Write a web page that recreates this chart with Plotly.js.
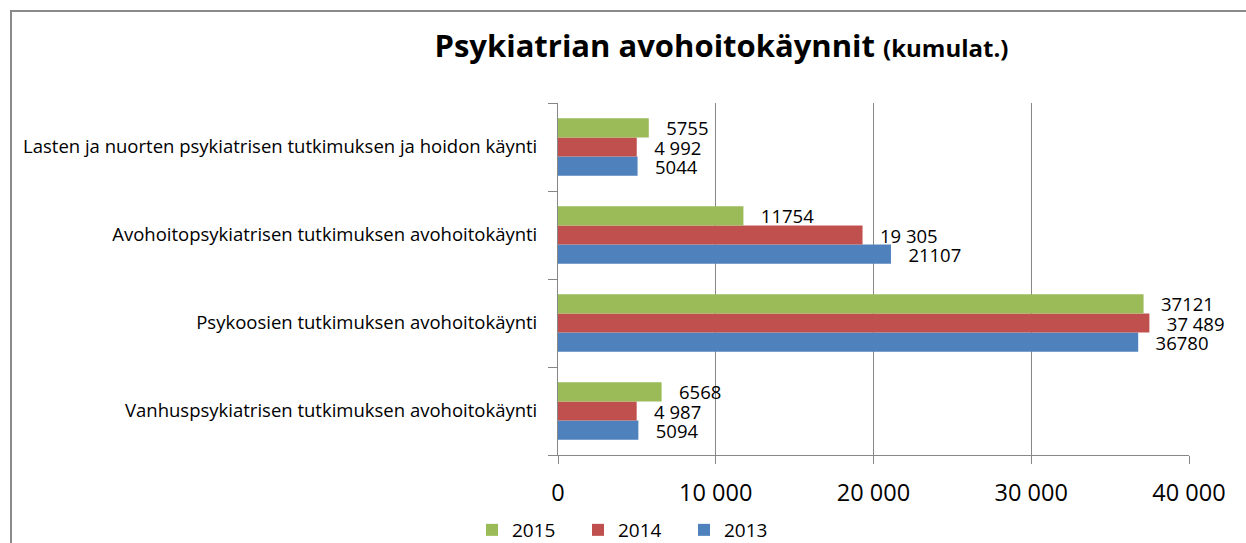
<!DOCTYPE html>
<html>
<head>
<meta charset="utf-8">
<script src="https://cdn.plot.ly/plotly-3.0.1.min.js"></script>
<style>
  html, body { margin: 0; padding: 0; background: #fff; overflow: hidden; }
  #wrap { position: relative; width: 1246px; height: 543px; }
  #chart { position: absolute; left: 0; top: 0; width: 1246px; height: 543px; }
  #frame { position: absolute; left: 10px; top: 10px; width: 1300px; height: 600px;
           border: 2px solid #8a8a8a; pointer-events: none; box-sizing: border-box; }
</style>
</head>
<body>
<div id="wrap">
  <div id="chart"></div>
  <div id="frame"></div>
</div>
<script>
// Categories listed bottom to top (Plotly draws the first category at the bottom)
const categories = [
  "Vanhuspsykiatrisen tutkimuksen avohoitokäynti",
  "Psykoosien tutkimuksen avohoitokäynti",
  "Avohoitopsykiatrisen tutkimuksen avohoitokäynti",
  "Lasten ja nuorten psykiatrisen tutkimuksen ja hoidon käynti"
];

const values2013 = [5094, 36780, 21107, 5044];
const values2014 = [4987, 37489, 19305, 4992];
const values2015 = [6568, 37121, 11754, 5755];

const labels2013 = ["5094", "36780", "21107", "5044"];
const labels2014 = ["4 987", "37 489", "19 305", "4 992"];
const labels2015 = ["6568", "37121", "11754", "5755"];

const seriesNames = ["2013", "2014", "2015"];
const seriesColors = ["#4F81BD", "#C0504D", "#9BBB59"];

const xTickVals = [0, 10000, 20000, 30000, 40000];
const xTickText = ["0", "10 000", "20 000", "30 000", "40 000"];

const FONT = "'Open Sans', 'Noto Sans', sans-serif";
const pad = "\u00a0\u00a0\u00a0";

const allValues = [values2013, values2014, values2015];
const allLabels = [labels2013, labels2014, labels2015];

const traces = allValues.map((vals, i) => ({
  type: "bar",
  orientation: "h",
  name: seriesNames[i],
  y: categories,
  x: vals,
  text: allLabels[i].map(t => pad + t),
  textposition: "outside",
  textangle: 0,
  constraintext: "none",
  cliponaxis: false,
  textfont: { family: FONT, size: 18.5, color: "#000" },
  marker: { color: seriesColors[i], line: { width: 0 } },
  hoverinfo: "x+name"
}));

const layout = {
  width: 1246,
  height: 543,
  margin: { l: 558, r: 57, t: 103, b: 88, pad: 0, autoexpand: false },
  paper_bgcolor: "#fff",
  plot_bgcolor: "#fff",
  font: { family: FONT, color: "#000" },
  barmode: "group",
  bargap: 0.345,
  bargroupgap: 0,
  title: {
    text: "<b>Psykiatrian avohoitokäynnit <span style='font-size:24px'>(kumulat.)</span></b>",
    font: { family: FONT, size: 31, color: "#000" },
    xref: "container", x: 0.579, xanchor: "center",
    yref: "container", y: 1 - 46 / 543, yanchor: "middle"
  },
  xaxis: {
    range: [0, 40000],
    tickvals: xTickVals,
    ticktext: xTickText,
    showgrid: true,
    gridcolor: "#878787",
    gridwidth: 1,
    zeroline: false,
    showline: true,
    linecolor: "#878787",
    linewidth: 1,
    ticks: "outside",
    ticklen: 8,
    tickcolor: "#878787",
    ticklabelstandoff: 9,
    tickfont: { family: FONT, size: 23.5, color: "#000" },
    automargin: false,
    fixedrange: true
  },
  yaxis: {
    type: "category",
    showgrid: false,
    zeroline: false,
    showline: true,
    linecolor: "#878787",
    linewidth: 1,
    ticks: "outside",
    tickson: "boundaries",
    ticklen: 9,
    tickcolor: "#878787",
    ticklabelstandoff: 16,
    tickfont: { family: FONT, size: 18.5, color: "#000" },
    automargin: false,
    fixedrange: true
  },
  showlegend: true,
  legend: {
    orientation: "h",
    traceorder: "reversed",
    x: (472 - 558) / 631,
    xanchor: "left",
    yref: "container",
    y: 1 - 530 / 543,
    yanchor: "middle",
    entrywidth: 61,
    entrywidthmode: "pixels",
    font: { family: FONT, size: 19, color: "#000" },
    bgcolor: "rgba(0,0,0,0)"
  }
};

Plotly.newPlot("chart", traces, layout, { displayModeBar: false, staticPlot: true });
</script>
</body>
</html>
